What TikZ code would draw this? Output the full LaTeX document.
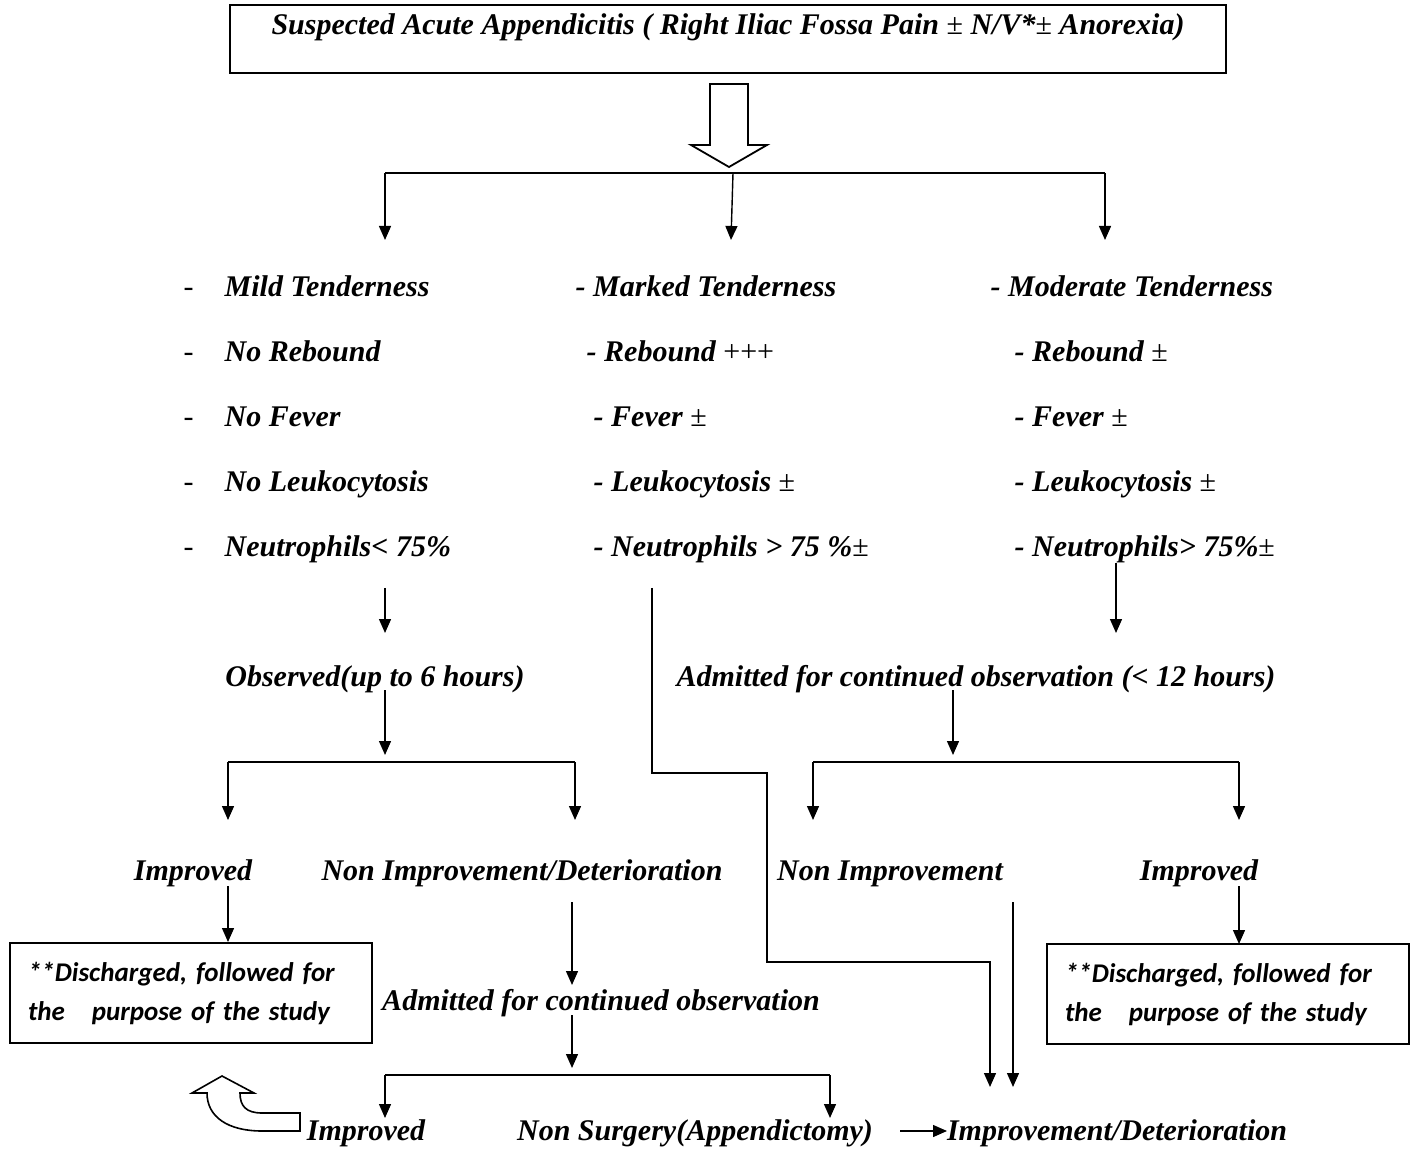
\documentclass[tikz,border=0pt]{standalone}
\usepackage{fontspec}
\setmainfont{Liberation Serif}
\newfontfamily\calfont{Carlito}
\usetikzlibrary{arrows.meta}
\newcommand{\plusmin}{{\mdseries\upshape ±}}
\tikzset{
  lbl/.style={font=\fontsize{15}{18}\selectfont\bfseries\itshape, inner sep=0pt},
  item/.style={lbl, anchor=base west},
  ctxt/.style={lbl, anchor=base},
  dbox/.style={draw, line width=0.9pt, minimum height=50pt, text width=163pt, inner xsep=9pt,
    align=left, font=\fontsize{13.5}{19.5}\selectfont\calfont\bfseries\itshape},
  arr/.style={-{Triangle[length=7pt,width=6pt]}},
}
\begin{document}
\begin{tikzpicture}[x=0.5pt,y=-0.5pt,line width=0.7pt]
\useasboundingbox (0,0) rectangle (1413,1149);

\node[draw, lbl, line width=1pt, minimum width=498pt, text height=15pt, text depth=19pt] (susp) at (728,39)
  {Suspected Acute Appendicitis ( Right Iliac Fossa Pain \plusmin{} N/V*\plusmin{} Anorexia)};
\draw[line width=0.9pt, fill=white] (710,84) -- (748,84) -- (748,145) -- (767,145) -- (729,167) -- (691,145) -- (710,145) -- cycle;

\node[item] (mi1) at (224,297) {Mild Tenderness};
\node[item] (mi2) at (224,362) {No Rebound};
\node[item] (mi3) at (224,427) {No Fever};
\node[item] (mi4) at (224,492) {No Leukocytosis};
\node[item] (mi5) at (224,557) {Neutrophils< 75\%};
\foreach \i in {1,...,5}
  \node[item, font=\fontsize{15}{18}\selectfont] (dash\i) at (183,{232+65*\i}) {-};

\node[item] (ma1) at (575,297) {- Marked Tenderness};
\node[item] (ma2) at (586,362) {- Rebound {\mdseries\upshape +++}};
\node[item] (ma3) at (593,427) {- Fever \plusmin};
\node[item] (ma4) at (593,492) {- Leukocytosis \plusmin};
\node[item] (ma5) at (593,557) {- Neutrophils > 75 \%\plusmin};

\node[item] (mo1) at (990,297) {- Moderate Tenderness};
\node[item] (mo2) at (1014,362) {- Rebound \plusmin};
\node[item] (mo3) at (1014,427) {- Fever \plusmin};
\node[item] (mo4) at (1014,492) {- Leukocytosis \plusmin};
\node[item] (mo5) at (1014,557) {- Neutrophils> 75\%\plusmin};

\node[ctxt] (obs) at (375,686) {Observed(up to 6 hours)};
\node[ctxt] (adm12) at (976,686) {Admitted for continued observation (< 12 hours)};
\node[ctxt] (impL) at (193,880) {Improved};
\node[ctxt] (nidL) at (522,880) {Non Improvement/Deterioration};
\node[ctxt] (niR) at (890,880) {Non Improvement};
\node[ctxt] (impR) at (1199,880) {Improved};
\node[ctxt] (admB) at (601,1010) {Admitted for continued observation};
\node[ctxt] (impB) at (366,1140) {Improved};
\node[ctxt] (nsurg) at (695,1140) {Non Surgery(Appendictomy)};
\node[ctxt] (idet) at (1117,1140) {Improvement/Deterioration};

\node[dbox] (dischL) at (191,993) {**Discharged, followed for\\the\hspace{1em}purpose of the study};
\node[dbox] (dischR) at (1228,994) {**Discharged, followed for\\the\hspace{1em}purpose of the study};

\draw[line width=0.8pt, fill=white] (192,1093) -- (222,1076) -- (254,1093) -- (240,1093)
  .. controls (240,1106) and (246,1113) .. (262,1113) -- (300,1113) -- (300,1131) -- (262,1131)
  .. controls (228,1131) and (207,1117) .. (207,1093) -- cycle;

\coordinate (bl) at (385,173);
\coordinate (bm) at (733,173);
\coordinate (br) at (1105,173);
\coordinate (tl) at (385,240);
\coordinate (tm) at (731,240);
\coordinate (tr) at (1105,240);
\draw (bl) -- (br);
\draw[arr] (bl) -- (tl);
\draw[arr] (bm) -- (tm);
\draw[arr] (br) -- (tr);

\coordinate (l1) at (385,588);
\coordinate (l2) at (385,633);
\coordinate (l3) at (385,690);
\coordinate (l4) at (385,755);
\coordinate (lb1) at (228,762);
\coordinate (lb2) at (575,762);
\coordinate (lt1) at (228,820);
\coordinate (lt2) at (575,820);
\draw[arr] (l1) -- (l2);
\draw[arr] (l3) -- (l4);
\draw (lb1) -- (lb2);
\draw[arr] (lb1) -- (lt1);
\draw[arr] (lb2) -- (lt2);

\coordinate (r1) at (1116,563);
\coordinate (r2) at (1116,633);
\coordinate (r3) at (953,690);
\coordinate (r4) at (953,755);
\coordinate (rb1) at (813,762);
\coordinate (rb2) at (1239,762);
\coordinate (rt1) at (813,820);
\coordinate (rt2) at (1239,820);
\draw[arr] (r1) -- (r2);
\draw[arr] (r3) -- (r4);
\draw (rb1) -- (rb2);
\draw[arr] (rb1) -- (rt1);
\draw[arr] (rb2) -- (rt2);

\coordinate (k0) at (652,588);
\coordinate (k1) at (767,773);
\coordinate (k2) at (990,962);
\coordinate (k3) at (990,1087);
\draw[arr] (k0) |- (k1) |- (k2) -- (k3);
\coordinate (n0) at (1013,902);
\coordinate (n1) at (1013,1087);
\draw[arr] (n0) -- (n1);

\coordinate (i1) at (228,886);
\coordinate (i2) at (228,942);
\draw[arr] (i1) -- (i2);
\coordinate (j1) at (1239,886);
\coordinate (j2) at (1239,944);
\draw[arr] (j1) -- (j2);

\coordinate (d1) at (572,902);
\coordinate (d2) at (572,985);
\coordinate (d3) at (572,1015);
\coordinate (d4) at (572,1068);
\coordinate (db1) at (385,1075);
\coordinate (db2) at (830,1075);
\coordinate (dt1) at (385,1118);
\coordinate (dt2) at (830,1118);
\draw[arr] (d1) -- (d2);
\draw[arr] (d3) -- (d4);
\draw (db1) -- (db2);
\draw[arr] (db1) -- (dt1);
\draw[arr] (db2) -- (dt2);

\coordinate (s1) at (900,1131);
\coordinate (s2) at (947,1131);
\draw[arr] (s1) -- (s2);
\end{tikzpicture}
\end{document}
